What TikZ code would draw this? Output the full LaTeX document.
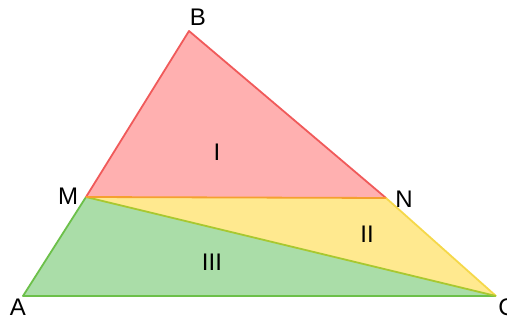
\documentclass[tikz,border=0pt]{standalone}
\usepackage{fontspec}
\setmainfont{Liberation Sans}
\definecolor{redfill}{HTML}{FFB0B0}
\definecolor{redline}{HTML}{F05A5A}
\definecolor{yelfill}{HTML}{FFE98F}
\definecolor{yelline}{HTML}{F5D84A}
\definecolor{grnfill}{HTML}{AADDA8}
\definecolor{grnline}{HTML}{6CC04A}
\definecolor{orgline}{HTML}{F5A030}
\definecolor{oliveline}{HTML}{A8C830}
\newcommand{\lblfont}{\fontsize{20pt}{22pt}\selectfont}
\begin{document}
\begin{tikzpicture}[x=1pt,y=-1pt,
  lbl/.style={font=\lblfont, text=black, inner sep=0pt, scale=1.2},
  edge/.style={line width=1.8pt, line join=round}]
\useasboundingbox (0,0) rectangle (507,320);
\coordinate (B) at (189,31);
\coordinate (M) at (86,197);
\coordinate (N) at (386,198);
\coordinate (A) at (23,296);
\coordinate (C) at (496,296);
% region III
\fill[grnfill] (A) -- (M) -- (C) -- cycle;
% region II
\fill[yelfill] (M) -- (N) -- (C) -- cycle;
% region I
\fill[redfill] (B) -- (M) -- (N) -- cycle;
\draw[edge, grnline] (M) -- (A) -- (C);
\draw[edge, yelline] (N) -- (C);
\draw[edge, oliveline] (M) -- (C);
\draw[edge, redline] (M) -- (B) -- (N);
\draw[edge, orgline] (M) -- (N);
\node[lbl] (lB) at (198,17) {B};
\node[lbl] (lM) at (68,196) {M};
\node[lbl] (lN) at (404,199) {N};
\node[lbl] (lA) at (18,307) {A};
\node[lbl] (lC) at (507,307) {C};
\node[lbl] (l1) at (217,152) {I};
\node[lbl] (l2) at (367,234) {II};
\node[lbl] (l3) at (212,262) {III};
\end{tikzpicture}
\end{document}
